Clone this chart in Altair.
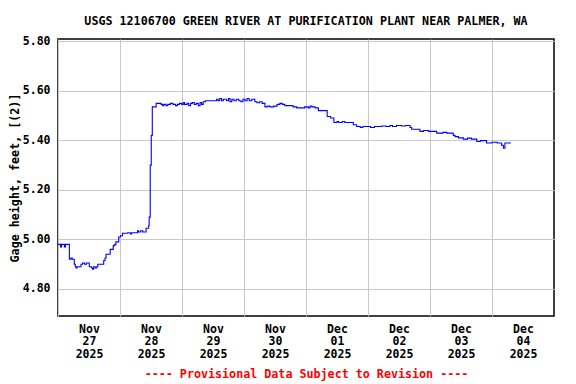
import altair as alt
import pandas as pd

# hours after 2025-11-27 00:00 and gage height (ft)
hours = [0.0, 1.0, 1.4, 2.5, 2.9, 4.4, 5.0, 5.5, 6.3, 6.7, 7.0, 7.4, 8.9, 9.5, 10.3, 11.0,
         12.1, 13.0, 13.4, 13.8, 14.4, 15.0, 15.4, 17.7, 18.2, 18.6, 20.2, 21.4, 22.0, 22.4,
         23.5, 24.2, 25.0, 27.0, 28.0, 28.5, 30.8, 31.2, 32.0, 32.8, 34.1, 35.1, 35.3, 35.7,
         36.1, 36.5,
         38.0, 39.9, 40.5, 41.0, 41.8, 42.5, 43.5, 44.5, 45.5, 46.2, 47.0, 47.9, 48.5, 49.0,
         50.0, 50.6, 51.3, 52.0, 52.7, 53.5, 54.3, 55.0, 55.6, 56.2, 57.0, 61.4, 62.0, 62.6,
         63.3, 64.0, 65.3, 66.0, 66.6, 67.3, 68.1, 69.0, 70.0, 70.8, 71.6, 72.4, 73.2, 74.0,
         75.0, 76.2, 77.0, 78.0, 79.0, 80.1, 81.0, 82.0, 83.5, 84.8, 85.9, 86.8, 87.8, 90.0,
         91.0, 92.4, 94.0, 95.5, 96.9, 97.6, 98.3, 99.5, 100.8,
         102.0, 104.2, 105.5, 106.8, 108.0, 108.6, 110.0, 111.0, 114.3, 115.6, 117.0, 118.0,
         121.0, 122.5, 125.3, 127.0, 128.5, 129.5, 131.0, 133.0, 134.5, 136.3, 136.9, 140.1,
         141.5, 143.5, 146.6, 149.0, 150.5, 153.0, 153.7, 155.0, 156.9, 158.5, 160.0, 162.1,
         163.5, 165.9, 168.0, 170.0, 171.7, 172.4, 173.0, 175.0]
gage = [4.98, 4.97, 4.98, 4.97, 4.98, 4.92, 4.925, 4.92, 4.90, 4.89, 4.885, 4.89, 4.90, 4.905, 4.90, 4.905,
        4.89, 4.885, 4.88, 4.89, 4.885, 4.89, 4.90, 4.915, 4.925, 4.94, 4.96, 4.975, 4.98, 4.99,
        5.01, 5.015, 5.025, 5.027, 5.022, 5.027, 5.035, 5.03, 5.035, 5.03, 5.045, 5.055, 5.09, 5.30,
        5.42, 5.535,
        5.549, 5.545, 5.54, 5.545, 5.54, 5.545, 5.549, 5.545, 5.54, 5.545, 5.549, 5.545, 5.553, 5.545,
        5.549, 5.54, 5.549, 5.553, 5.545, 5.549, 5.54, 5.553, 5.545, 5.556, 5.56, 5.566, 5.56, 5.569,
        5.56, 5.566, 5.56, 5.569, 5.556, 5.566, 5.56, 5.566, 5.56, 5.556, 5.566, 5.56, 5.569, 5.56,
        5.566, 5.556, 5.552, 5.556, 5.549, 5.535, 5.538, 5.535, 5.538, 5.545, 5.549, 5.545, 5.54, 5.54,
        5.535, 5.531, 5.531, 5.535, 5.531, 5.538, 5.535, 5.531, 5.52,
        5.52, 5.496, 5.49, 5.472, 5.476, 5.472, 5.476, 5.472, 5.463, 5.456, 5.452, 5.456,
        5.452, 5.456, 5.458, 5.456, 5.46, 5.456, 5.46, 5.458, 5.46, 5.452, 5.445, 5.436,
        5.44, 5.436, 5.429, 5.432, 5.429, 5.42, 5.415, 5.41, 5.405, 5.409, 5.405, 5.395,
        5.399, 5.389, 5.392, 5.389, 5.38, 5.368, 5.389, 5.392]

tick_days = [(11, 27), (11, 28), (11, 29), (11, 30), (12, 1), (12, 2), (12, 3), (12, 4)]
y_ticks = [4.8, 5.0, 5.2, 5.4, 5.6, 5.8]

start = pd.Timestamp("2025-11-27T00:00:00")
times = [(start + pd.Timedelta(hours=h)).strftime("%Y-%m-%dT%H:%M:%SZ") for h in hours]
df = pd.DataFrame({"time": times, "gage": gage})

FONT = "DejaVu Sans Mono"
GRID = "#c8c8c8"

x_domain = [alt.DateTime(year=2025, month=11, date=27, utc=True),
            alt.DateTime(year=2025, month=12, date=5, utc=True)]
x_values = [alt.DateTime(year=2025, month=m, date=d, utc=True) for m, d in tick_days]

chart = alt.Chart(df).mark_line(
    color="#0000ff", strokeWidth=1.1, interpolate="step-after"
).encode(
    x=alt.X(
        "time:T",
        scale=alt.Scale(type="utc", domain=x_domain),
        axis=alt.Axis(
            values=x_values,
            labelExpr="[utcFormat(datum.value, '%b'), utcFormat(datum.value, '%d'), utcFormat(datum.value, '%Y')]",
            labelOffset=31,
            labelFlush=False,
            labelOverlap=False,
            labelBaseline="top",
            labelPadding=7,
            labelLineHeight=12.7,
            labelFont=FONT,
            labelFontSize=11.5,
            labelFontWeight="bold",
            labelColor="black",
            ticks=False,
            domain=False,
            grid=True,
            gridColor=GRID,
            gridWidth=1,
            title="---- Provisional Data Subject to Revision ----",
            titleColor="#ff0000",
            titleFont=FONT,
            titleFontSize=11.7,
            titleFontWeight="bold",
            titlePadding=9,
        ),
    ),
    y=alt.Y(
        "gage:Q",
        scale=alt.Scale(domain=[4.691, 5.809], nice=False, zero=False),
        axis=alt.Axis(
            values=y_ticks,
            format=".2f",
            labelFont=FONT,
            labelFontSize=11.5,
            labelFontWeight="bold",
            labelColor="black",
            labelPadding=8,
            ticks=False,
            domain=False,
            grid=True,
            gridColor=GRID,
            gridWidth=1,
            title="Gage height, feet, [(2)]",
            titleFont=FONT,
            titleFontSize=11.7,
            titleFontWeight="bold",
            titleColor="black",
            titlePadding=2,
        ),
    ),
).properties(
    width=496,
    height=277,
    padding={"left": 50, "top": 31, "right": 14, "bottom": 68},
    autosize=alt.AutoSizeParams(type="none"),
    title=alt.TitleParams(
        text="USGS 12106700 GREEN RIVER AT PURIFICATION PLANT NEAR PALMER, WA",
        font=FONT,
        fontSize=11.7,
        fontWeight="bold",
        color="black",
        anchor="middle",
        frame="group",
        offset=8,
    ),
).configure_view(stroke="black", strokeWidth=1.5)

chart.save("out.html", embed_options={"renderer": "svg", "actions": False})
